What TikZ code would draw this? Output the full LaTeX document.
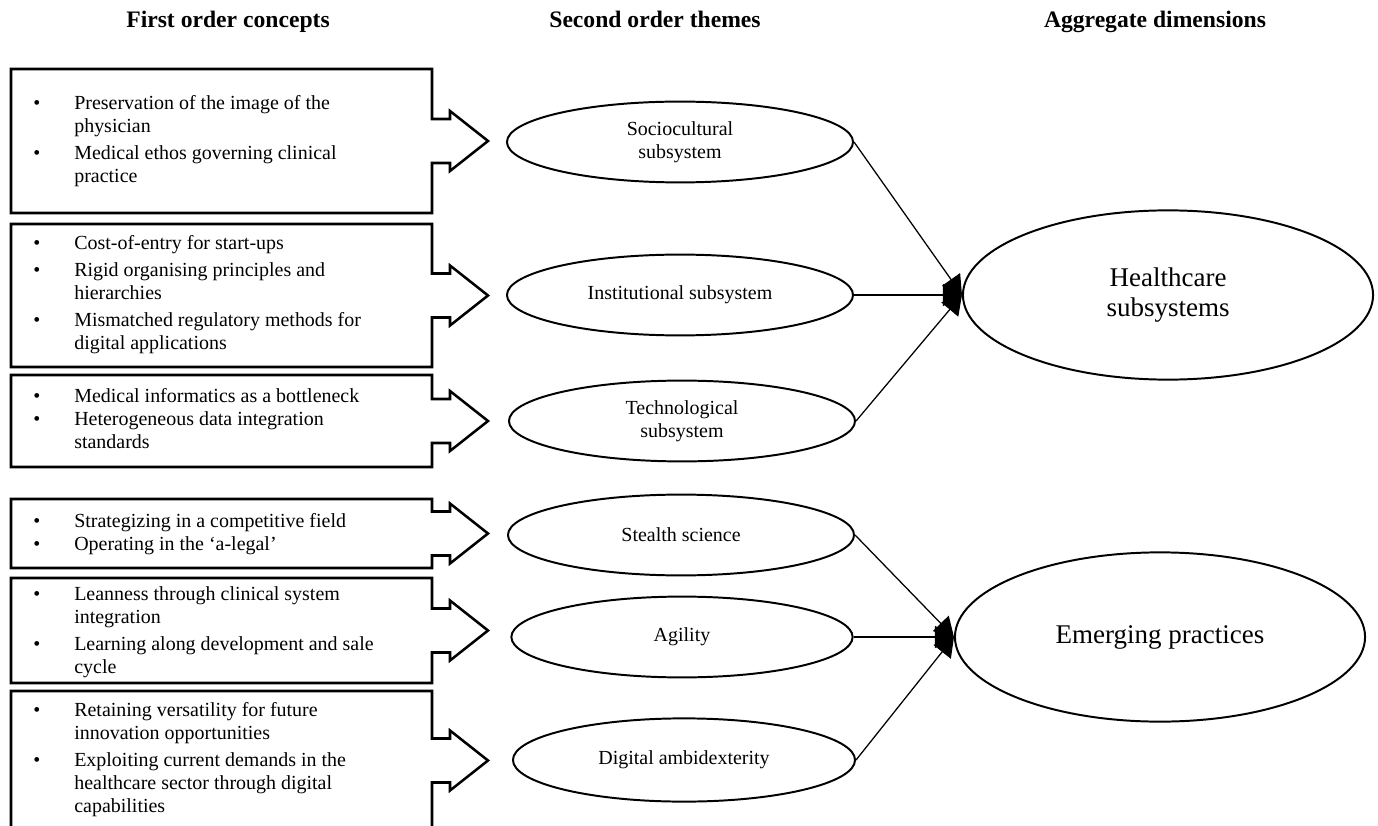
\documentclass[tikz,border=0pt]{standalone}
\usepackage{fontspec}
\setmainfont{Liberation Serif}
\usetikzlibrary{shapes.geometric, arrows.meta}

\newcommand{\conceptfont}{\fontsize{14.2pt}{16.4pt}\selectfont}
\newcommand{\headfont}{\fontsize{16.8pt}{19pt}\selectfont\bfseries}
\newcommand{\aggfont}{\fontsize{19.2pt}{21.8pt}\selectfont}
\newenvironment{bullets}{\begin{tabular}{@{}p{1.025cm}@{}l@{}}}{\end{tabular}}

\begin{document}
\begin{tikzpicture}[
  x=0.025cm, y=-0.025cm,
  header/.style={font=\headfont, inner sep=0pt, anchor=base},
  conceptbox/.style={draw=black, line width=1.8pt, line join=miter},
  concept/.style={anchor=west, inner sep=0pt, font=\conceptfont, align=left},
  theme/.style={ellipse, draw=black, line width=1.4pt, minimum width=8.65cm, minimum height=2.02cm, inner sep=0pt, font=\conceptfont, align=center},
  dimension/.style={ellipse, draw=black, line width=1.4pt, minimum width=10.25cm, minimum height=4.23cm, inner sep=0pt, font=\aggfont, align=center},
  link/.style={line width=0.9pt, -{Triangle[length=0.475cm, width=0.55cm]}},
]
\useasboundingbox (0,0) rectangle (1378,826);
\clip (0,0) rectangle (1378,826);

% --- column headers ---
\node[header] (h1) at (228,28) {First order concepts};
\node[header] (h2) at (655,28) {Second order themes};
\node[header] (h3) at (1155,28) {Aggregate dimensions};

% --- first order boxes with block arrows ---
\foreach \t/\b in {69/213, 224/367, 375/467, 499/568, 578/683, 691/830}
{
  \pgfmathsetmacro\m{(\t+\b)/2}
  \draw[conceptbox] (11,\t) -- (432,\t) -- (432,\m-22) -- (450,\m-22) -- (450,\m-30)
    -- (488,\m) -- (450,\m+30) -- (450,\m+22) -- (432,\m+22) -- (432,\b) -- (11,\b) -- cycle;
}

\node[concept] (c1) at (33,141) {\begin{bullets}
  \textbullet & Preservation of the image of the\\
              & physician\\[2.8pt]
  \textbullet & Medical ethos governing clinical\\
              & practice
\end{bullets}};
\node[concept] (c2) at (33,295) {\begin{bullets}
  \textbullet & Cost-of-entry for start-ups\\[2.8pt]
  \textbullet & Rigid organising principles and\\
              & hierarchies\\[2.8pt]
  \textbullet & Mismatched regulatory methods for\\
              & digital applications
\end{bullets}};
\node[concept] (c3) at (33,421) {\begin{bullets}
  \textbullet & Medical informatics as a bottleneck\\
  \textbullet & Heterogeneous data integration\\
              & standards
\end{bullets}};
\node[concept] (c4) at (33,534) {\begin{bullets}
  \textbullet & Strategizing in a competitive field\\
  \textbullet & Operating in the ‘a-legal’
\end{bullets}};
\node[concept] (c5) at (33,632) {\begin{bullets}
  \textbullet & Leanness through clinical system\\
              & integration\\[2.8pt]
  \textbullet & Learning along development and sale\\
              & cycle
\end{bullets}};
\node[concept] (c6) at (33,760) {\begin{bullets}
  \textbullet & Retaining versatility for future\\
              & innovation opportunities\\[2.8pt]
  \textbullet & Exploiting current demands in the\\
              & healthcare sector through digital\\
              & capabilities
\end{bullets}};

% --- second order themes ---
\node[theme] (soc) at (680,142) {Sociocultural\\subsystem};
\node[theme] (inst) at (680,295) {Institutional subsystem};
\node[theme] (tech) at (682,421) {Technological\\subsystem};
\node[theme] (stealth) at (681,535) {Stealth science};
\node[theme, minimum width=8.53cm] (agil) at (682,637) {Agility};
\node[theme, minimum width=8.55cm, minimum height=2.08cm] (digi) at (684,760) {Digital ambidexterity};

% --- aggregate dimensions ---
\node[dimension] (hc) at (1168,295) {Healthcare\\subsystems};
\node[dimension] (ep) at (1160,637) {Emerging practices};

\draw[link] (soc.east) -- (hc.west);
\draw[link] (inst.east) -- (hc.west);
\draw[link] (tech.east) -- (hc.west);
\draw[link] (stealth.east) -- (ep.west);
\draw[link] (agil.east) -- (ep.west);
\draw[link] (digi.east) -- (ep.west);

\end{tikzpicture}
\end{document}
